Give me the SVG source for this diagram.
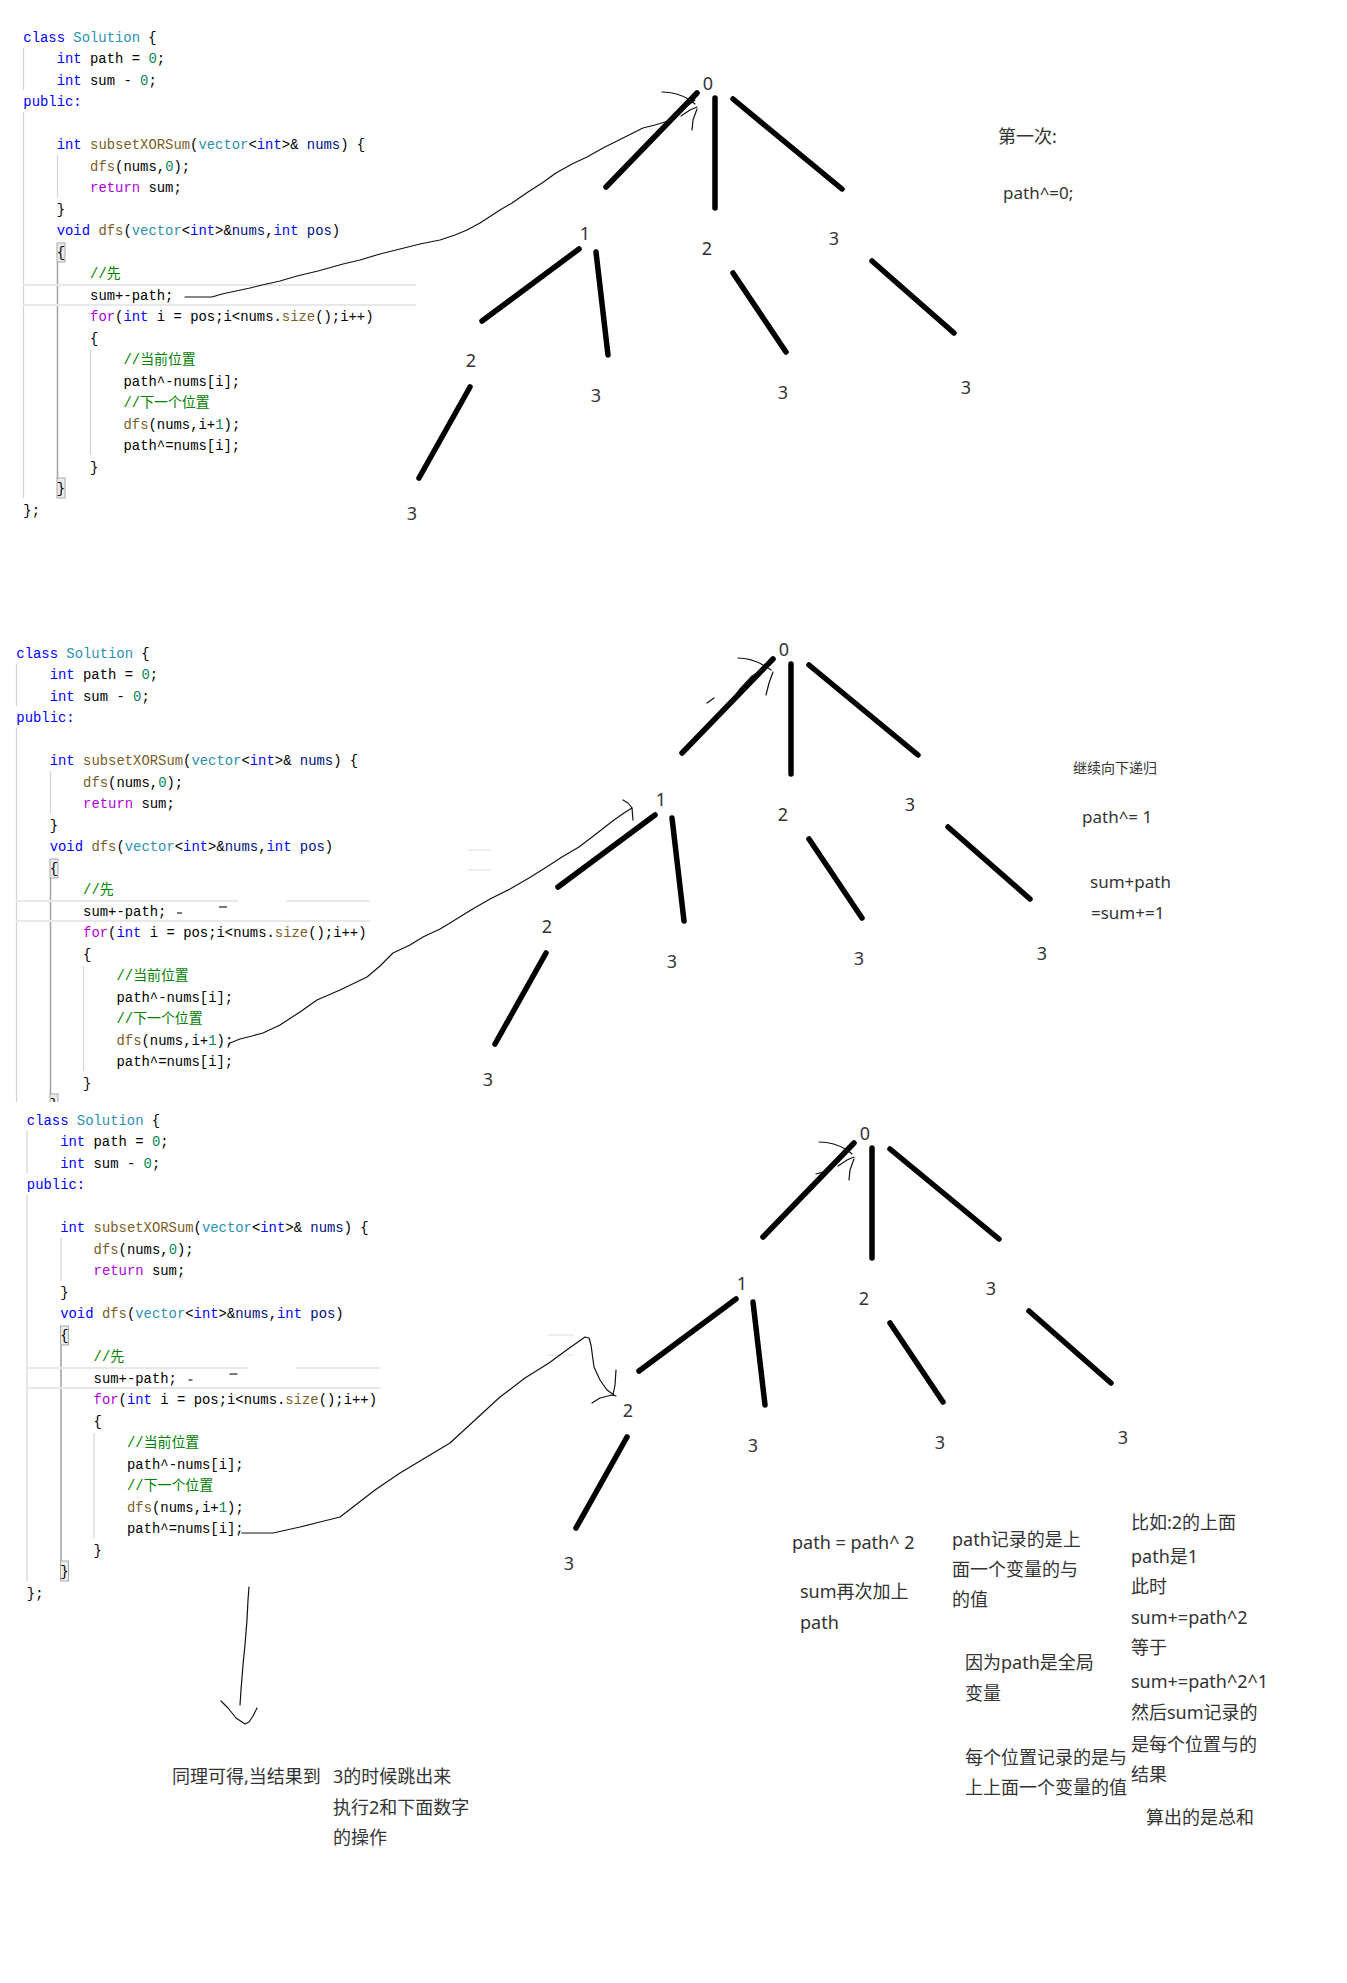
<svg xmlns="http://www.w3.org/2000/svg" width="1347" height="1983" viewBox="0 0 1347 1983">
<style>
.code text{font-family:"Liberation Mono","Noto Sans CJK SC",monospace;font-size:13.9px;fill:#000;white-space:pre}
.code .kw{fill:#0000ff}.code .ty{fill:#2b91af}.code .num{fill:#098658}.code .fn{fill:#795e26}.code .ctl{fill:#af00db}.code .cm{fill:#008000}.code .pa{fill:#001080}
.guide{stroke:#d4d4d4;stroke-width:1.2}
.guide2{stroke:#a0a0a0;stroke-width:1.5}
.box{fill:#ececec;stroke:#a8a8a8;stroke-width:1}
.hl{stroke:#e8e8e8;stroke-width:2}
.lbl{font-family:"Noto Sans","Open Sans","Noto Sans CJK SC",sans-serif;font-size:18px;fill:#333;text-anchor:middle}
.note{font-family:"Noto Sans","Noto Sans CJK SC",sans-serif;font-size:18px;fill:#333}
.edge{stroke:#000;stroke-width:5.5;stroke-linecap:round;fill:none}
.ink{stroke:#111;stroke-width:1.2;fill:none;stroke-linejoin:round;stroke-linecap:round}
</style>
<defs>
<clipPath id="clip2"><rect x="-20" y="0" width="480" height="486"/></clipPath>
</defs>
<rect width="1347" height="1983" fill="#fff"/>

<!-- code block 1 -->
<g id="code1" class="code">
<line x1="23.5" y1="48" x2="23.5" y2="90" class="guide"/>
<line x1="23.5" y1="112" x2="23.5" y2="498" class="guide"/>
<line x1="57.5" y1="155" x2="57.5" y2="198" class="guide"/>
<line x1="57.5" y1="262" x2="57.5" y2="478" class="guide2"/>
<line x1="90.5" y1="350" x2="90.5" y2="455" class="guide"/>
<rect x="57" y="243" width="8" height="19" class="box"/>
<rect x="57" y="478" width="8" height="20" class="box"/>
<line x1="23" y1="285" x2="416" y2="285" class="hl"/>
<line x1="23" y1="305" x2="416" y2="305" class="hl"/>
<text x="23.3" y="41.5"><tspan class="kw">class</tspan> <tspan class="ty">Solution</tspan> {</text>
<text x="56.7" y="63"><tspan class="kw">int</tspan> path = <tspan class="num">0</tspan>;</text>
<text x="56.7" y="84.5"><tspan class="kw">int</tspan> sum - <tspan class="num">0</tspan>;</text>
<text x="23.3" y="106" class="kw">public:</text>
<text x="56.7" y="149"><tspan class="kw">int</tspan> <tspan class="fn">subsetXORSum</tspan>(<tspan class="ty">vector</tspan>&lt;<tspan class="kw">int</tspan>&gt;&amp; <tspan class="pa">nums</tspan>) {</text>
<text x="90.1" y="170.5"><tspan class="fn">dfs</tspan>(nums,<tspan class="num">0</tspan>);</text>
<text x="90.1" y="192"><tspan class="ctl">return</tspan> sum;</text>
<text x="56.7" y="213.5">}</text>
<text x="56.7" y="235"><tspan class="kw">void</tspan> <tspan class="fn">dfs</tspan>(<tspan class="ty">vector</tspan>&lt;<tspan class="kw">int</tspan>&gt;&amp;<tspan class="pa">nums</tspan>,<tspan class="kw">int</tspan> <tspan class="pa">pos</tspan>)</text>
<text x="56.7" y="256.5">{</text>
<text x="90.1" y="278" class="cm">//先</text>
<text x="90.1" y="299.5">sum+-path;</text>
<text x="90.1" y="321"><tspan class="ctl">for</tspan>(<tspan class="kw">int</tspan> i = pos;i&lt;nums.<tspan class="fn">size</tspan>();i++)</text>
<text x="90.1" y="342.5">{</text>
<text x="123.5" y="364" class="cm">//当前位置</text>
<text x="123.5" y="385.5">path^-nums[i];</text>
<text x="123.5" y="407" class="cm">//下一个位置</text>
<text x="123.5" y="428.5"><tspan class="fn">dfs</tspan>(nums,i+<tspan class="num">1</tspan>);</text>
<text x="123.5" y="450">path^=nums[i];</text>
<text x="90.1" y="471.5">}</text>
<text x="56.7" y="493">}</text>
<text x="23.3" y="514.5">};</text>
</g>

<!-- code block 2 -->
<g id="code2" class="code" transform="translate(-7,616)">
<g clip-path="url(#clip2)">
<line x1="23.5" y1="48" x2="23.5" y2="90" class="guide"/>
<line x1="23.5" y1="112" x2="23.5" y2="498" class="guide"/>
<line x1="57.5" y1="155" x2="57.5" y2="198" class="guide"/>
<line x1="57.5" y1="262" x2="57.5" y2="478" class="guide2"/>
<line x1="90.5" y1="350" x2="90.5" y2="455" class="guide"/>
<rect x="57" y="243" width="8" height="19" class="box"/>
<rect x="57" y="478" width="8" height="20" class="box"/>
<line x1="23" y1="285" x2="245" y2="285" class="hl"/>
<line x1="293" y1="285" x2="377" y2="285" class="hl"/>
<line x1="23" y1="305" x2="377" y2="305" class="hl"/>
<line x1="184" y1="297" x2="189" y2="297" stroke="#222" stroke-width="1.2"/>
<line x1="226" y1="291" x2="234" y2="291" stroke="#222" stroke-width="1.2"/>
<text x="23.3" y="41.5"><tspan class="kw">class</tspan> <tspan class="ty">Solution</tspan> {</text>
<text x="56.7" y="63"><tspan class="kw">int</tspan> path = <tspan class="num">0</tspan>;</text>
<text x="56.7" y="84.5"><tspan class="kw">int</tspan> sum - <tspan class="num">0</tspan>;</text>
<text x="23.3" y="106" class="kw">public:</text>
<text x="56.7" y="149"><tspan class="kw">int</tspan> <tspan class="fn">subsetXORSum</tspan>(<tspan class="ty">vector</tspan>&lt;<tspan class="kw">int</tspan>&gt;&amp; <tspan class="pa">nums</tspan>) {</text>
<text x="90.1" y="170.5"><tspan class="fn">dfs</tspan>(nums,<tspan class="num">0</tspan>);</text>
<text x="90.1" y="192"><tspan class="ctl">return</tspan> sum;</text>
<text x="56.7" y="213.5">}</text>
<text x="56.7" y="235"><tspan class="kw">void</tspan> <tspan class="fn">dfs</tspan>(<tspan class="ty">vector</tspan>&lt;<tspan class="kw">int</tspan>&gt;&amp;<tspan class="pa">nums</tspan>,<tspan class="kw">int</tspan> <tspan class="pa">pos</tspan>)</text>
<text x="56.7" y="256.5">{</text>
<text x="90.1" y="278" class="cm">//先</text>
<text x="90.1" y="299.5">sum+-path;</text>
<text x="90.1" y="321"><tspan class="ctl">for</tspan>(<tspan class="kw">int</tspan> i = pos;i&lt;nums.<tspan class="fn">size</tspan>();i++)</text>
<text x="90.1" y="342.5">{</text>
<text x="123.5" y="364" class="cm">//当前位置</text>
<text x="123.5" y="385.5">path^-nums[i];</text>
<text x="123.5" y="407" class="cm">//下一个位置</text>
<text x="123.5" y="428.5"><tspan class="fn">dfs</tspan>(nums,i+<tspan class="num">1</tspan>);</text>
<text x="123.5" y="450">path^=nums[i];</text>
<text x="90.1" y="471.5">}</text>
<text x="56.7" y="493">}</text>
</g>
</g>

<!-- code block 3 -->
<g id="code3" class="code" transform="translate(3.5,1083)">
<line x1="23.5" y1="48" x2="23.5" y2="90" class="guide"/>
<line x1="23.5" y1="112" x2="23.5" y2="498" class="guide"/>
<line x1="57.5" y1="155" x2="57.5" y2="198" class="guide"/>
<line x1="57.5" y1="262" x2="57.5" y2="478" class="guide2"/>
<line x1="90.5" y1="350" x2="90.5" y2="455" class="guide"/>
<rect x="57" y="243" width="8" height="19" class="box"/>
<rect x="57" y="478" width="8" height="20" class="box"/>
<line x1="23" y1="285" x2="244" y2="285" class="hl"/>
<line x1="292" y1="285" x2="377" y2="285" class="hl"/>
<line x1="23" y1="305" x2="377" y2="305" class="hl"/>
<line x1="185" y1="297" x2="189" y2="297" stroke="#222" stroke-width="1.2"/>
<line x1="226" y1="291" x2="234" y2="291" stroke="#222" stroke-width="1.2"/>
<text x="23.3" y="41.5"><tspan class="kw">class</tspan> <tspan class="ty">Solution</tspan> {</text>
<text x="56.7" y="63"><tspan class="kw">int</tspan> path = <tspan class="num">0</tspan>;</text>
<text x="56.7" y="84.5"><tspan class="kw">int</tspan> sum - <tspan class="num">0</tspan>;</text>
<text x="23.3" y="106" class="kw">public:</text>
<text x="56.7" y="149"><tspan class="kw">int</tspan> <tspan class="fn">subsetXORSum</tspan>(<tspan class="ty">vector</tspan>&lt;<tspan class="kw">int</tspan>&gt;&amp; <tspan class="pa">nums</tspan>) {</text>
<text x="90.1" y="170.5"><tspan class="fn">dfs</tspan>(nums,<tspan class="num">0</tspan>);</text>
<text x="90.1" y="192"><tspan class="ctl">return</tspan> sum;</text>
<text x="56.7" y="213.5">}</text>
<text x="56.7" y="235"><tspan class="kw">void</tspan> <tspan class="fn">dfs</tspan>(<tspan class="ty">vector</tspan>&lt;<tspan class="kw">int</tspan>&gt;&amp;<tspan class="pa">nums</tspan>,<tspan class="kw">int</tspan> <tspan class="pa">pos</tspan>)</text>
<text x="56.7" y="256.5">{</text>
<text x="90.1" y="278" class="cm">//先</text>
<text x="90.1" y="299.5">sum+-path;</text>
<text x="90.1" y="321"><tspan class="ctl">for</tspan>(<tspan class="kw">int</tspan> i = pos;i&lt;nums.<tspan class="fn">size</tspan>();i++)</text>
<text x="90.1" y="342.5">{</text>
<text x="123.5" y="364" class="cm">//当前位置</text>
<text x="123.5" y="385.5">path^-nums[i];</text>
<text x="123.5" y="407" class="cm">//下一个位置</text>
<text x="123.5" y="428.5"><tspan class="fn">dfs</tspan>(nums,i+<tspan class="num">1</tspan>);</text>
<text x="123.5" y="450">path^=nums[i];</text>
<text x="90.1" y="471.5">}</text>
<text x="56.7" y="493">}</text>
<text x="23.3" y="514.5">};</text>
</g>

<!-- faint highlight remnants -->
<g stroke="#eeeeee" stroke-width="2">
<line x1="468" y1="850" x2="491" y2="850"/>
<line x1="468" y1="870" x2="491" y2="870"/>
<line x1="548" y1="1335" x2="573" y2="1335"/>
<line x1="548" y1="1355" x2="573" y2="1355"/>
</g>

<!-- connectors -->
<g id="connectors">
<g id="edges-tree1">
<line class="edge" x1="697" y1="93" x2="606" y2="187"/>
<line class="edge" x1="715" y1="98" x2="715" y2="208"/>
<line class="edge" x1="733" y1="99" x2="842" y2="189"/>
<line class="edge" x1="579" y1="249" x2="482" y2="321"/>
<line class="edge" x1="596" y1="252" x2="608" y2="355"/>
<line class="edge" x1="733" y1="273" x2="786" y2="352"/>
<line class="edge" x1="872" y1="261" x2="954" y2="333"/>
<line class="edge" x1="470" y1="387" x2="419" y2="478"/>
</g>
<g id="edges-tree2" transform="translate(76,566)">
<line class="edge" x1="697" y1="93" x2="606" y2="187"/>
<line class="edge" x1="715" y1="98" x2="715" y2="208"/>
<line class="edge" x1="733" y1="99" x2="842" y2="189"/>
<line class="edge" x1="579" y1="249" x2="482" y2="321"/>
<line class="edge" x1="596" y1="252" x2="608" y2="355"/>
<line class="edge" x1="733" y1="273" x2="786" y2="352"/>
<line class="edge" x1="872" y1="261" x2="954" y2="333"/>
<line class="edge" x1="470" y1="387" x2="419" y2="478"/>
</g>
<g id="edges-tree3" transform="translate(157,1050)">
<line class="edge" x1="697" y1="93" x2="606" y2="187"/>
<line class="edge" x1="715" y1="98" x2="715" y2="208"/>
<line class="edge" x1="733" y1="99" x2="842" y2="189"/>
<line class="edge" x1="579" y1="249" x2="482" y2="321"/>
<line class="edge" x1="596" y1="252" x2="608" y2="355"/>
<line class="edge" x1="733" y1="273" x2="786" y2="352"/>
<line class="edge" x1="872" y1="261" x2="954" y2="333"/>
<line class="edge" x1="470" y1="387" x2="419" y2="478"/>
</g>
<g id="ink-arrows">
<path class="ink" d="M185,297 L212,297 L222,294 L236,291 L250,288 L262,285 L280,281 L297,276 L318,271 L343,264 L360,260 L380,254 L400,249 L420,244 L440,240 L455,235 L467,230 L480,223 L500,210 L512,203 L528,192 L542,183 L556,173 L572,164 L587,157 L603,148 L619,140 L631,134 L643,128 L655,125 L668,121 L678,114 L686,107 L695,100"/>
<path class="ink" d="M662,92 C672,92 682,95 690,100 L695,104 M692,130 L693,120 L697,109 M681,116 L690,110 L697,107"/>
<path class="ink" d="M230,1043 L240,1039 L252,1036 L263,1033 L280,1025 L300,1012 L317,1000 L340,990 L367,977 L380,966 L393,953 L410,945 L423,937 L440,929 L450,923 L471,910 L490,899 L510,889 L529,878 L545,868 L562,857 L579,847 L596,834 L614,820 L624,813 L632,808"/>
<path class="ink" d="M623,800 L628,803 L632,808 L633,820"/>
<path class="ink" d="M738,658 C748,658 760,662 771,670 M766,695 L769,683 L773,672 M719,717 L728,705 L739,690 L752,676 L765,668 M707,703 L714,698"/>
<path class="ink" d="M242,1533 L273,1533 L300,1527 L320,1522 L340,1517 L353,1507 L375,1490 L400,1473 L425,1458 L450,1443 L475,1420 L500,1397 L525,1378 L549,1363 L568,1349 L585,1337 L589,1338 L591,1345 L594,1367 L600,1380 L607,1390 L614,1395"/>
<path class="ink" d="M592,1403 L600,1398 L612,1395 L616,1396 M616,1370 L615,1385 L613,1395"/>
<path class="ink" d="M819,1142 C829,1142 839,1145 847,1150 L852,1154 M849,1180 L850,1170 L854,1159 M838,1166 L847,1160 L854,1157 M816,1174 L830,1170"/>
<path class="ink" d="M249,1587 L248,1600 L247,1620 L245,1645 L243,1665 L241,1690 L240,1705 M221,1701 L228,1708 L236,1718 L245,1724 L249,1722 L253,1716 L257,1708"/>
</g>
</g>

<!-- tree 1 nodes -->
<g id="tree1">
<g id="t1-root"><text class="lbl" x="708" y="89.5">0</text></g>
<g id="t1-a"><text class="lbl" x="585" y="239.5">1</text></g>
<g id="t1-b"><text class="lbl" x="707" y="254.5">2</text></g>
<g id="t1-c"><text class="lbl" x="834" y="244.5">3</text></g>
<g id="t1-d"><text class="lbl" x="471" y="366.5">2</text></g>
<g id="t1-e"><text class="lbl" x="596" y="401.5">3</text></g>
<g id="t1-f"><text class="lbl" x="783" y="398.5">3</text></g>
<g id="t1-g"><text class="lbl" x="966" y="393.5">3</text></g>
<g id="t1-h"><text class="lbl" x="412" y="519.5">3</text></g>
</g>
<g id="tree2" transform="translate(76,566)">
<g id="t2-root"><text class="lbl" x="708" y="89.5">0</text></g>
<g id="t2-a"><text class="lbl" x="585" y="239.5">1</text></g>
<g id="t2-b"><text class="lbl" x="707" y="254.5">2</text></g>
<g id="t2-c"><text class="lbl" x="834" y="244.5">3</text></g>
<g id="t2-d"><text class="lbl" x="471" y="366.5">2</text></g>
<g id="t2-e"><text class="lbl" x="596" y="401.5">3</text></g>
<g id="t2-f"><text class="lbl" x="783" y="398.5">3</text></g>
<g id="t2-g"><text class="lbl" x="966" y="393.5">3</text></g>
<g id="t2-h"><text class="lbl" x="412" y="519.5">3</text></g>
</g>
<g id="tree3" transform="translate(157,1050)">
<g id="t3-root"><text class="lbl" x="708" y="89.5">0</text></g>
<g id="t3-a"><text class="lbl" x="585" y="239.5">1</text></g>
<g id="t3-b"><text class="lbl" x="707" y="254.5">2</text></g>
<g id="t3-c"><text class="lbl" x="834" y="244.5">3</text></g>
<g id="t3-d"><text class="lbl" x="471" y="366.5">2</text></g>
<g id="t3-e"><text class="lbl" x="596" y="401.5">3</text></g>
<g id="t3-f"><text class="lbl" x="783" y="398.5">3</text></g>
<g id="t3-g"><text class="lbl" x="966" y="393.5">3</text></g>
<g id="t3-h"><text class="lbl" x="412" y="519.5">3</text></g>
</g>

<!-- annotations -->
<g id="notes1">
<text class="note" x="998" y="143">第一次:</text>
<text class="note" x="1003" y="199" style="font-size:17px">path^=0;</text>
</g>
<g id="notes2">
<text class="note" x="1073" y="773" style="font-size:14px">继续向下递归</text>
<text class="note" x="1082" y="823" style="font-size:17px">path^= 1</text>
<text class="note" x="1090" y="888" style="font-size:17px">sum+path</text>
<text class="note" x="1091" y="919" style="font-size:17px">=sum+=1</text>
</g>
<g id="notes3">
<text class="note" x="792" y="1549">path = path^  2</text>
<text class="note" x="800" y="1598">sum再次加上</text>
<text class="note" x="800" y="1629">path</text>
<text class="note" x="952" y="1546">path记录的是上</text>
<text class="note" x="952" y="1576">面一个变量的与</text>
<text class="note" x="952" y="1606">的值</text>
<text class="note" x="965" y="1669">因为path是全局</text>
<text class="note" x="965" y="1700">变量</text>
<text class="note" x="965" y="1764">每个位置记录的是与</text>
<text class="note" x="965" y="1794">上上面一个变量的值</text>
<text class="note" x="1131" y="1529">比如:2的上面</text>
<text class="note" x="1131" y="1563">path是1</text>
<text class="note" x="1131" y="1593">此时</text>
<text class="note" x="1131" y="1624">sum+=path^2</text>
<text class="note" x="1131" y="1654">等于</text>
<text class="note" x="1131" y="1688">sum+=path^2^1</text>
<text class="note" x="1131" y="1719">然后sum记录的</text>
<text class="note" x="1131" y="1751">是每个位置与的</text>
<text class="note" x="1131" y="1781">结果</text>
<text class="note" x="1146" y="1824">算出的是总和</text>
</g>
<g id="notes4">
<text class="note" x="172" y="1783">同理可得,当结果到</text>
<text class="note" x="333" y="1783">3的时候跳出来</text>
<text class="note" x="333" y="1814">执行2和下面数字</text>
<text class="note" x="333" y="1844">的操作</text>
</g>
</svg>
